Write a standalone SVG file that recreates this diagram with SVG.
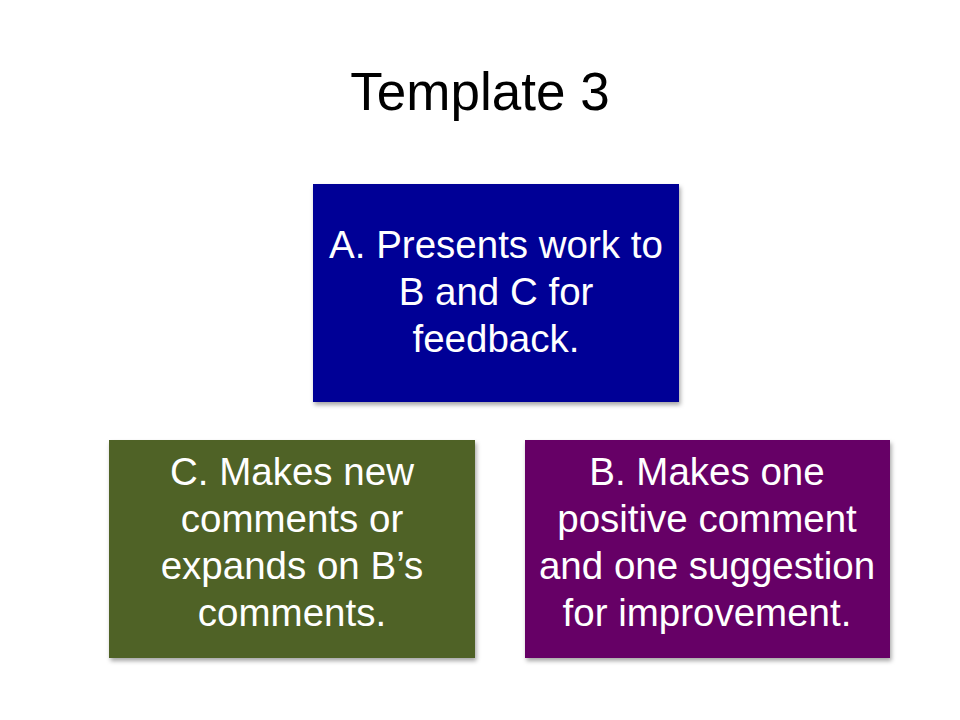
<svg xmlns="http://www.w3.org/2000/svg" width="960" height="720" viewBox="0 0 960 720">
<defs>
<filter id="sh" x="-10%" y="-10%" width="120%" height="130%">
<feDropShadow dx="1.5" dy="3" stdDeviation="2" flood-color="#000" flood-opacity="0.35"/>
</filter>
</defs>
<style>
.t{font-family:"Liberation Sans",Arial,sans-serif;fill:#fff;font-size:38.5px;text-anchor:middle}
.title{font-family:"Liberation Sans",Arial,sans-serif;fill:#000;font-size:53px;text-anchor:middle}
</style>
<rect width="960" height="720" fill="#fff"/>
<text class="title" x="480" y="110">Template 3</text>
<g id="connectors"></g>
<g id="nodeA">
<rect x="313" y="184" width="366" height="218" fill="#000096" filter="url(#sh)"/>
<text class="t" x="496" y="258">A. Presents work to</text>
<text class="t" x="496" y="305">B and C for</text>
<text class="t" x="496" y="352">feedback.</text>
</g>
<g id="nodeC">
<rect x="109" y="440" width="366" height="218" fill="#4F6228" filter="url(#sh)"/>
<text class="t" x="292" y="485">C. Makes new</text>
<text class="t" x="292" y="532">comments or</text>
<text class="t" x="292" y="579">expands on B’s</text>
<text class="t" x="292" y="626">comments.</text>
</g>
<g id="nodeB">
<rect x="525" y="440" width="365" height="218" fill="#660066" filter="url(#sh)"/>
<text class="t" x="707" y="485">B. Makes one</text>
<text class="t" x="707" y="532">positive comment</text>
<text class="t" x="707" y="579">and one suggestion</text>
<text class="t" x="707" y="626">for improvement.</text>
</g>
</svg>
